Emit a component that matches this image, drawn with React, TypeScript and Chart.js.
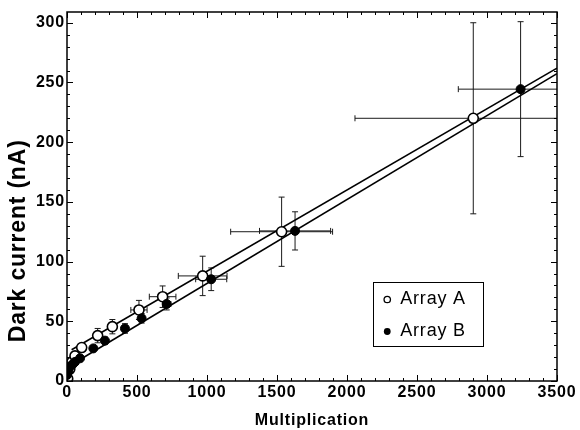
import React, { useEffect, useRef } from "react";
import { Chart, registerables } from "chart.js";

Chart.register(...registerables);

// Array A (open circles)
const arrayAX = [5, 20, 35, 57, 105, 219, 324, 514, 683, 969, 1533, 2902];
const arrayAY = [2, 10, 16, 21, 28, 38, 45.5, 59.5, 70.6, 88, 125, 220];
const arrayAXErr = [0, 0, 0, 0, 0, 0, 0, 58, 95, 174, 364, 845];
const arrayAYErr = [0, 0, 0, 0, 0, 6, 6, 8, 9, 16.5, 29, 80];

// Array B (filled circles)
const arrayBX = [0, 10, 21, 40, 57, 93, 188, 271, 414, 533, 712, 1030, 1629, 3240];
const arrayBY = [5, 8, 12, 14, 16, 19, 27.3, 33.8, 44, 52.5, 64.5, 85.2, 125.7, 244.4];
const arrayBXErr = [0, 0, 0, 0, 0, 0, 0, 0, 0, 0, 30, 111, 254, 445];
const arrayBYErr = [0, 0, 0, 0, 0, 0, 0, 3, 4, 4, 5, 9.5, 16, 56.5];

// Linear fits
const fitAX = [33, 3500];
const fitAY = [26.2, 262];
const fitBX = [79, 3500];
const fitBY = [17, 257.4];

const xTicks = [0, 500, 1000, 1500, 2000, 2500, 3000, 3500];
const yTicks = [0, 50, 100, 150, 200, 250, 300];
const legendLabels = ["Array A", "Array B"];
const xTitle = "Multiplication";
const yTitle = "Dark current (nA)";

const FONT = "'Liberation Sans', Arial, Helvetica, sans-serif";

const pts = (xs: number[], ys: number[]) => xs.map((x, i) => ({ x, y: ys[i] }));

export default function App() {
  const ref = useRef<HTMLCanvasElement>(null);

  useEffect(() => {
    const canvas = ref.current!;

    const spacing = {
      id: "spacing",
      beforeUpdate(chart: any) {
        chart.ctx.letterSpacing = "0.8px";
      },
      beforeDraw(chart: any) {
        chart.ctx.letterSpacing = "0.8px";
      },
    };

    const errorBars = {
      id: "errorBars",
      beforeDatasetsDraw(chart: any) {
        const { ctx, chartArea, scales } = chart;
        const sx = scales.x;
        const sy = scales.y;
        ctx.save();
        ctx.beginPath();
        ctx.rect(chartArea.left, chartArea.top, chartArea.right - chartArea.left, chartArea.bottom - chartArea.top);
        ctx.clip();
        ctx.strokeStyle = "#1a1a1a";
        ctx.lineWidth = 1;
        const cap = 3;
        const draw = (xs: number[], ys: number[], xe: number[], ye: number[]) => {
          xs.forEach((xv, i) => {
            const px = sx.getPixelForValue(xv);
            const py = sy.getPixelForValue(ys[i]);
            if (ye[i] > 0) {
              const t = sy.getPixelForValue(ys[i] + ye[i]);
              const b = sy.getPixelForValue(ys[i] - ye[i]);
              ctx.beginPath();
              ctx.moveTo(px, t);
              ctx.lineTo(px, b);
              ctx.moveTo(px - cap, t);
              ctx.lineTo(px + cap, t);
              ctx.moveTo(px - cap, b);
              ctx.lineTo(px + cap, b);
              ctx.stroke();
            }
            if (xe[i] > 0) {
              const l = sx.getPixelForValue(xv - xe[i]);
              const r = sx.getPixelForValue(xv + xe[i]);
              ctx.beginPath();
              ctx.moveTo(l, py);
              ctx.lineTo(r, py);
              ctx.moveTo(l, py - cap);
              ctx.lineTo(l, py + cap);
              ctx.moveTo(r, py - cap);
              ctx.lineTo(r, py + cap);
              ctx.stroke();
            }
          });
        };
        draw(arrayAX, arrayAY, arrayAXErr, arrayAYErr);
        draw(arrayBX, arrayBY, arrayBXErr, arrayBYErr);
        ctx.restore();
      },
    };

    const frame = {
      id: "frame",
      afterDraw(chart: any) {
        const { ctx, chartArea, scales } = chart;
        const sx = scales.x;
        const sy = scales.y;
        const { left, right, top, bottom } = chartArea;
        ctx.save();
        ctx.strokeStyle = "#000";
        ctx.lineWidth = 1.5;
        ctx.strokeRect(left, top, right - left, bottom - top);
        ctx.lineWidth = 1;
        ctx.beginPath();
        for (let v = 0; v <= 3500; v += 100) {
          const p = Math.round(sx.getPixelForValue(v)) + 0.5;
          const len = v % 500 === 0 ? 6 : 3;
          ctx.moveTo(p, bottom);
          ctx.lineTo(p, bottom - len);
          ctx.moveTo(p, top);
          ctx.lineTo(p, top + len);
        }
        for (let v = 0; v <= 300; v += 10) {
          const p = Math.round(sy.getPixelForValue(v)) + 0.5;
          const len = v % 50 === 0 ? 6 : 3;
          ctx.moveTo(left, p);
          ctx.lineTo(left + len, p);
          ctx.moveTo(right, p);
          ctx.lineTo(right - len, p);
        }
        ctx.stroke();

        // y-axis title
        ctx.save();
        ctx.letterSpacing = "0.8px";
        ctx.font = `bold 23px ${FONT}`;
        ctx.fillStyle = "#000";
        ctx.textAlign = "center";
        ctx.textBaseline = "middle";
        ctx.translate(19, top + (bottom - top) * 0.62);
        ctx.rotate(-Math.PI / 2);
        ctx.fillText(yTitle, 0, 0);
        ctx.restore();

        // legend
        const lx = left + (right - left) * 0.625;
        const ly = top + (bottom - top) * 0.733;
        const lw = 110;
        const lh = 64;
        ctx.lineWidth = 1;
        ctx.strokeStyle = "#000";
        ctx.strokeRect(Math.round(lx) + 0.5, Math.round(ly) + 0.5, lw, lh);
        ctx.letterSpacing = "0.8px";
        ctx.font = `18px ${FONT}`;
        ctx.textBaseline = "middle";
        ctx.textAlign = "left";
        const rows = [ly + 17, ly + 49];
        ctx.beginPath();
        ctx.arc(lx + 14, rows[0], 3.2, 0, Math.PI * 2);
        ctx.fillStyle = "#fff";
        ctx.fill();
        ctx.lineWidth = 1.3;
        ctx.stroke();
        ctx.fillStyle = "#000";
        ctx.beginPath();
        ctx.arc(lx + 14, rows[1], 3.4, 0, Math.PI * 2);
        ctx.fill();
        ctx.fillText(legendLabels[0], lx + 27, rows[0]);
        ctx.fillText(legendLabels[1], lx + 27, rows[1]);
        ctx.restore();
      },
    };

    const chart = new Chart(canvas, {
      type: "scatter",
      data: {
        datasets: [
          {
            label: legendLabels[1],
            data: pts(arrayBX, arrayBY),
            pointRadius: 4.5,
            pointBackgroundColor: "#000",
            pointBorderColor: "#000",
            pointBorderWidth: 1,
            showLine: false,
          },
          {
            label: legendLabels[0],
            data: pts(arrayAX, arrayAY),
            pointRadius: 5,
            pointBackgroundColor: "#fff",
            pointBorderColor: "#000",
            pointBorderWidth: 1.6,
            showLine: false,
          },
          {
            label: "fitA",
            data: pts(fitAX, fitAY),
            showLine: true,
            borderColor: "#000",
            borderWidth: 1.6,
            pointRadius: 0,
          },
          {
            label: "fitB",
            data: pts(fitBX, fitBY),
            showLine: true,
            borderColor: "#000",
            borderWidth: 1.6,
            pointRadius: 0,
          },
        ],
      },
      options: {
        responsive: false,
        animation: false,
        layout: { padding: { top: 12, right: 23, left: 0, bottom: 0 } },
        plugins: { legend: { display: false }, tooltip: { enabled: false } },
        scales: {
          x: {
            type: "linear",
            min: 0,
            max: 3500,
            grid: { display: false, drawTicks: false },
            border: { display: false },
            afterBuildTicks: (s: any) => {
              s.ticks = xTicks.map((v) => ({ value: v }));
            },
            afterFit: (s: any) => {
              s.height = 49;
            },
            ticks: {
              padding: 2,
              color: "#000",
              font: { family: FONT, size: 16, weight: "bold" },
              maxRotation: 0,
              callback: (v: any) => String(v),
            },
            title: {
              display: true,
              text: xTitle,
              color: "#000",
              font: { family: FONT, size: 16, weight: "bold" },
              padding: { top: 1, bottom: 0 },
            },
          },
          y: {
            type: "linear",
            min: 0,
            max: 309,
            grid: { display: false, drawTicks: false },
            border: { display: false },
            afterBuildTicks: (s: any) => {
              s.ticks = yTicks.map((v) => ({ value: v }));
            },
            afterFit: (s: any) => {
              s.width = 67;
            },
            ticks: {
              padding: 2,
              color: "#000",
              font: { family: FONT, size: 16, weight: "bold" },
              callback: (v: any) => String(v),
            },
            title: { display: false },
          },
        },
      },
      plugins: [spacing, errorBars, frame],
    } as any);

    return () => chart.destroy();
  }, []);

  return (
    <div style={{ position: "fixed", left: 0, top: 0, width: 580, height: 430, background: "#fff" }}>
      <canvas ref={ref} width={580} height={430} style={{ display: "block" }} />
    </div>
  );
}
